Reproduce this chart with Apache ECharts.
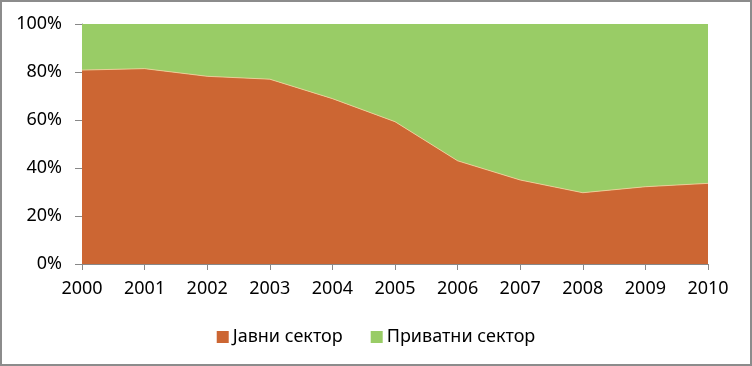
<!DOCTYPE html>
<html><head><meta charset="utf-8">
<script src="https://cdn.jsdelivr.net/npm/echarts@6/dist/echarts.min.js"></script>
<style>html,body{margin:0;padding:0;background:#fff}#c{width:752px;height:366px;box-sizing:border-box;border:2px solid #8c8c8c}</style>
</head><body><div id="c"></div>
<script>
var years = ['2000','2001','2002','2003','2004','2005','2006','2007','2008','2009','2010'];
var javni = [80.8, 81.4, 78.2, 77.0, 68.9, 59.3, 43.0, 35.0, 29.7, 32.2, 33.6];
var privatni = [19.2, 18.6, 21.8, 23.0, 31.1, 40.7, 57.0, 65.0, 70.3, 67.8, 66.4];
var names = ['Јавни сектор', 'Приватни сектор'];
var chart = echarts.init(document.getElementById('c'));
var font = 'Noto Sans';
chart.setOption({
  animation: false,
  grid: {left: 80, right: 42, top: 22, bottom: 100},
  legend: {
    top: 321, left: 'center', itemWidth: 12, itemHeight: 12, itemGap: 28,
    icon: 'rect',
    textStyle: {fontFamily: font, fontSize: 18, color: '#000', padding: [0, 0, 0, -1]},
    data: names
  },
  xAxis: {
    type: 'category', boundaryGap: false, data: years,
    axisLine: {lineStyle: {color: '#888', width: 1}},
    axisTick: {show: true, alignWithLabel: true, length: 6, lineStyle: {color: '#888'}},
    axisLabel: {fontFamily: font, fontSize: 18, color: '#000', margin: 16}
  },
  yAxis: {
    type: 'value', min: 0, max: 100, interval: 20,
    axisLine: {show: true, lineStyle: {color: '#888'}},
    axisTick: {show: true, length: 7, lineStyle: {color: '#888'}},
    splitLine: {show: false},
    axisLabel: {fontFamily: font, fontSize: 18, color: '#000', margin: 20, formatter: '{value}%'}
  },
  series: [
    {name: names[0], type: 'line', stack: 's', data: javni, symbol: 'none',
     lineStyle: {width: 0.8, color: '#f0d8a0'}, itemStyle: {color: '#CC6633'},
     areaStyle: {color: '#CC6633', opacity: 1}, z: 2},
    {name: names[1], type: 'line', stack: 's', data: privatni, symbol: 'none',
     lineStyle: {width: 0}, itemStyle: {color: '#99CC66'},
     areaStyle: {color: '#99CC66', opacity: 1}, z: 1}
  ]
});
</script></body></html>
